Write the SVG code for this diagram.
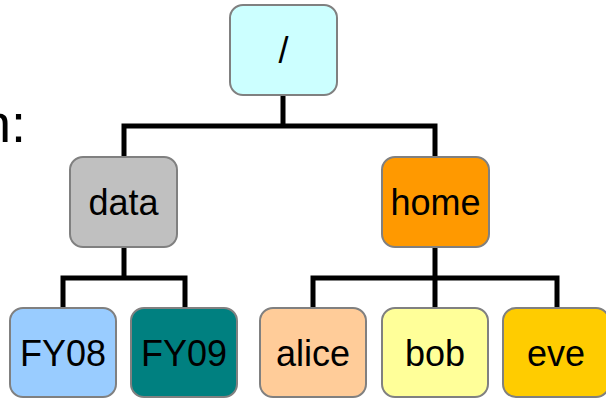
<svg xmlns="http://www.w3.org/2000/svg" width="606" height="398" viewBox="0 0 606 398">
<style>
.box{stroke:#808080;stroke-width:2}
.lbl{font-family:"Liberation Sans",Arial,sans-serif;font-size:36px;fill:#000;text-anchor:middle}
.conn{stroke:#000;stroke-width:5;fill:none;stroke-linecap:square}
</style>
<rect width="606" height="398" fill="#fff"/>
<text x="26" y="142" style="font-family:'Liberation Sans',Arial,sans-serif;font-size:54px;text-anchor:end">n:</text>
<g id="connectors">
<path class="conn" d="M283 95V126M124 126H435M124 126V157M435 126V157"/>
<path class="conn" d="M124 247V278M63 278H185M63 278V308M185 278V308"/>
<path class="conn" d="M435 247V308M313 278H557M313 278V308M557 278V308"/>
</g>
<g id="root"><rect class="box" x="230" y="5" width="107" height="90" rx="13" fill="#CCFFFF"/><text class="lbl" x="283.5" y="63">/</text></g>
<g id="data"><rect class="box" x="70" y="157" width="107" height="90" rx="13" fill="#C0C0C0"/><text class="lbl" x="123.5" y="215">data</text></g>
<g id="home"><rect class="box" x="382" y="157" width="107" height="90" rx="13" fill="#FF9900"/><text class="lbl" x="435.5" y="215">home</text></g>
<g id="fy08"><rect class="box" x="10" y="308" width="106" height="89" rx="13" fill="#99CCFF"/><text class="lbl" x="63" y="366">FY08</text></g>
<g id="fy09"><rect class="box" x="131" y="308" width="106" height="89" rx="13" fill="#008080"/><text class="lbl" x="184" y="366">FY09</text></g>
<g id="alice"><rect class="box" x="260" y="308" width="106" height="89" rx="13" fill="#FFCC99"/><text class="lbl" x="313" y="366">alice</text></g>
<g id="bob"><rect class="box" x="382" y="308" width="106" height="89" rx="13" fill="#FFFF99"/><text class="lbl" x="435" y="366">bob</text></g>
<g id="eve"><rect class="box" x="503" y="308" width="106" height="89" rx="13" fill="#FFCC00"/><text class="lbl" x="556" y="366">eve</text></g>
</svg>
